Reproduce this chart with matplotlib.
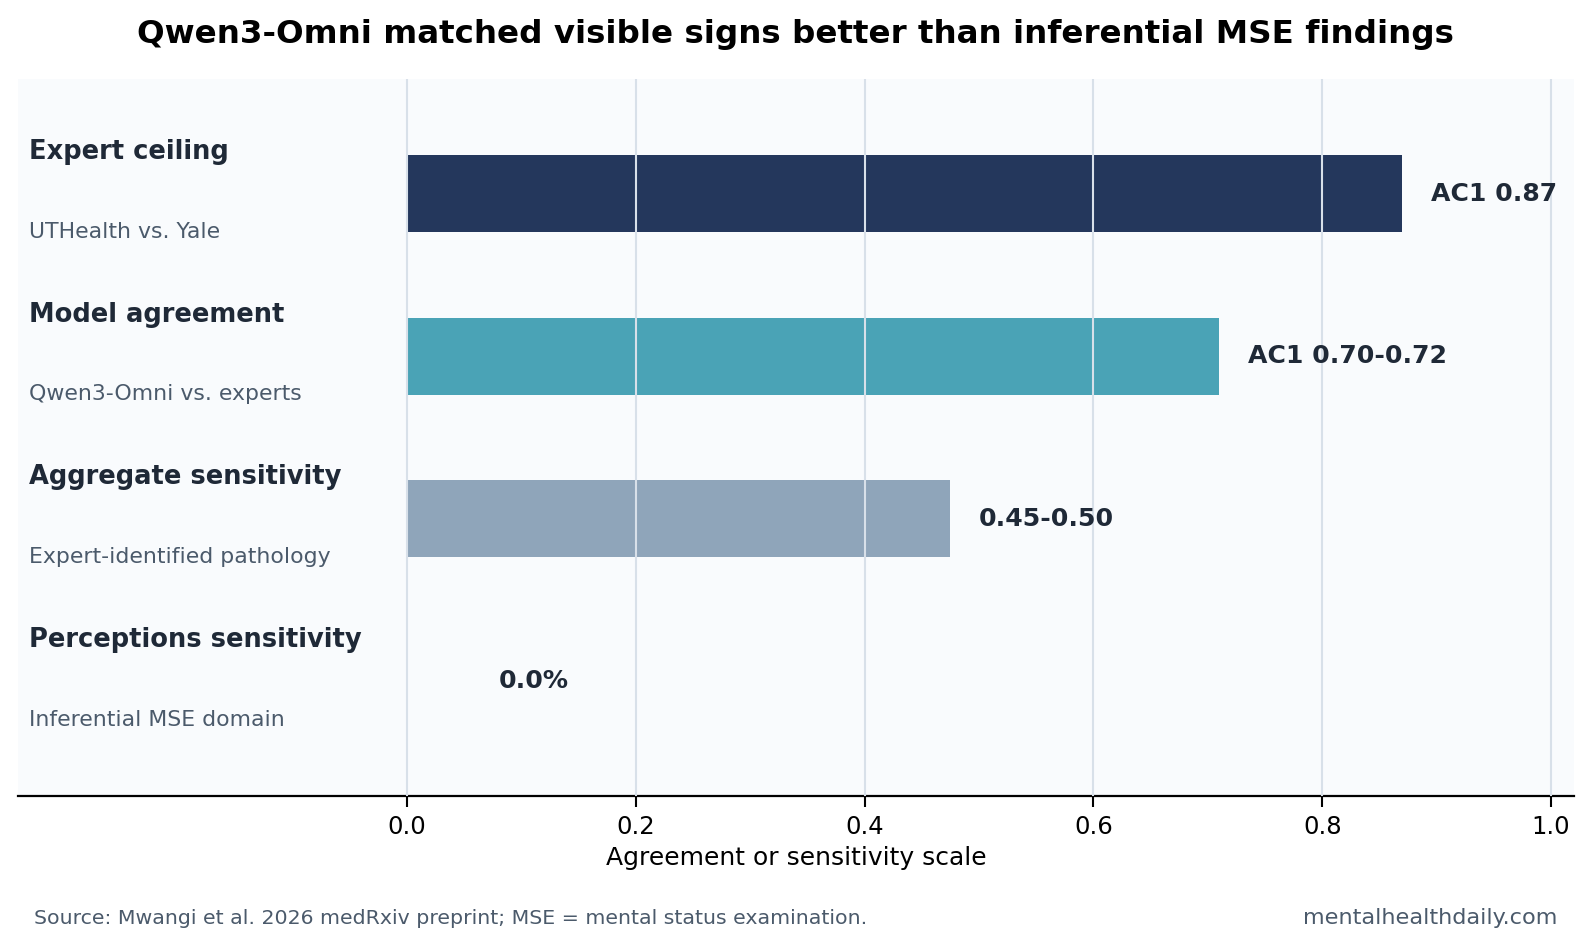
import matplotlib
matplotlib.use("Agg")
import matplotlib.pyplot as plt

plt.rcParams["font.family"] = ["DejaVu Sans"]

# ---- data ----
categories = ["Expert ceiling", "Model agreement", "Aggregate sensitivity", "Perceptions sensitivity"]
subtitles = ["UTHealth vs. Yale", "Qwen3-Omni vs. experts", "Expert-identified pathology", "Inferential MSE domain"]
values = [0.87, 0.71, 0.475, 0.0]
value_labels = ["AC1 0.87", "AC1 0.70-0.72", "0.45-0.50", "0.0%"]
bar_colors = ["#24375c", "#4aa3b6", "#8fa5ba", "#8fa5ba"]
xticks = [0.0, 0.2, 0.4, 0.6, 0.8, 1.0]

title = "Qwen3-Omni matched visible signs better than inferential MSE findings"
xlabel = "Agreement or sensitivity scale"
source = "Source: Mwangi et al. 2026 medRxiv preprint; MSE = mental status examination."
watermark = "mentalhealthdaily.com"

DARK = "#1f2937"
GRAY = "#4b5a6b"

fig = plt.figure(figsize=(15.91, 9.48), dpi=100)
fig.patch.set_facecolor("white")
W, H = 1591, 948
ax = fig.add_axes([18 / W, 1 - 796 / H, (1574 - 18) / W, (796 - 79) / H])
ax.set_facecolor("#f9fbfd")

ypos = list(range(len(categories)))
ax.barh(ypos, values, height=0.475, color=bar_colors, zorder=1)

ax.set_xlim(-0.34, 1.02)
ax.set_ylim(3.705, -0.705)
ax.set_xticks(xticks)
ax.set_xticklabels([f"{t:.1f}" for t in xticks], fontsize=17.5)
ax.set_yticks([])
ax.set_axisbelow(False)
ax.grid(axis="x", color="#d8e0e9", linewidth=1.5, zorder=2)
ax.tick_params(axis="x", length=8, width=1.5, pad=6, colors="black")
for s in ["top", "right", "left"]:
    ax.spines[s].set_visible(False)
ax.spines["bottom"].set_linewidth(1.6)
ax.set_xlabel(xlabel, fontsize=18, labelpad=5)

for i, (cat, sub, v, lab) in enumerate(zip(categories, subtitles, values, value_labels)):
    ax.text(-0.3305, i - 0.255, cat, fontsize=18.5, fontweight="bold", color=DARK,
            ha="left", va="center", zorder=3)
    ax.text(-0.3305, i + 0.235, sub, fontsize=15.85, color=GRAY,
            ha="left", va="center", zorder=3)
    lx = max(v + 0.025, 0.08)
    ax.text(lx, i, lab, fontsize=18.1, fontweight="bold", color=DARK,
            ha="left", va="center", zorder=3)

fig.text(0.5, 1 - 35 / H, title, fontsize=23.4, fontweight="bold", color="black",
         ha="center", va="center")
fig.text(34.5 / W, 1 - 919 / H, source, fontsize=14.75, color=GRAY, ha="left", va="center")
fig.text(1557.5 / W, 1 - 918 / H, watermark, fontsize=16.1, color=GRAY, ha="right", va="center")

fig.savefig("out.png", dpi=100, facecolor="white")
